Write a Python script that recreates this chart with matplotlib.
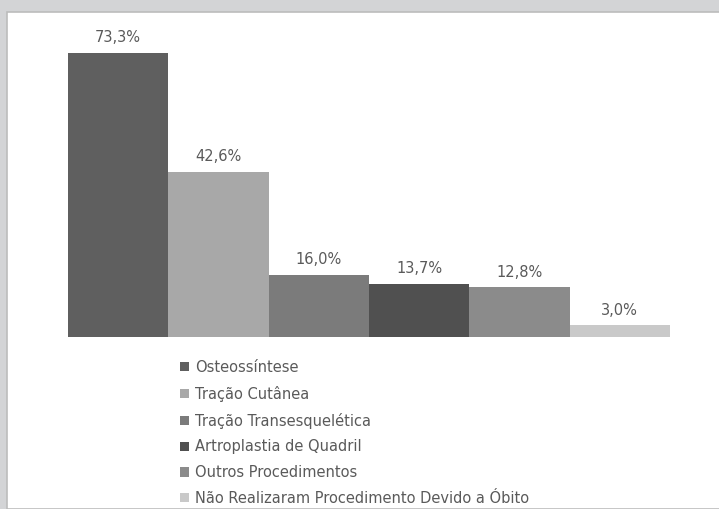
import matplotlib
matplotlib.use("Agg")
import matplotlib.pyplot as plt
from matplotlib.patches import Rectangle, Patch

categories = ["Osteossíntese", "Tração Cutânea", "Tração Transesquelética",
              "Artroplastia de Quadril", "Outros Procedimentos",
              "Não Realizaram Procedimento Devido a Óbito"]
values = [73.3, 42.6, 16.0, 13.7, 12.8, 3.0]
labels = ["73,3%", "42,6%", "16,0%", "13,7%", "12,8%", "3,0%"]
colors = ["#5f5f5f", "#a8a8a8", "#7b7b7b", "#505050", "#8b8b8b", "#c9c9c9"]

W, H = 719, 509
fig = plt.figure(figsize=(W / 100, H / 100), dpi=100)
fig.patch.set_facecolor("#d3d4d6")
fig.patches.append(Rectangle((7 / W, 0), 1, 1 - 12 / H, transform=fig.transFigure,
                             facecolor="white", edgecolor="#bcbcbc", linewidth=1.2, zorder=-1))

ax = fig.add_axes([68 / W, 1 - 337 / H, (670 - 68) / W, 310 / H])
ax.set_zorder(2)
ax.set_facecolor("none")
x = list(range(len(values)))
bars = ax.bar(x, values, width=1.0, color=colors, edgecolor="none")
for xi, v, lab in zip(x, values, labels):
    ax.text(xi, v + 2.0, lab, ha="center", va="bottom", fontsize=10.5,
            color="#5a5a5a", family="DejaVu Sans")
ax.set_xlim(-0.5, 5.5)
ax.set_ylim(0, 80)
ax.axis("off")

handles = [Patch(facecolor=c, edgecolor="none") for c in colors]
leg = fig.legend(handles, categories, loc="upper left", bbox_to_anchor=(180 / W, 1 - 360 / H),
                 frameon=False, fontsize=10.5, labelcolor="#5a5a5a",
                 handlelength=0.6, handleheight=0.6, handletextpad=0.45,
                 labelspacing=0.74, borderpad=0, borderaxespad=0)
leg.set_zorder(3)

fig.savefig("out.png", dpi=100, facecolor=fig.get_facecolor())
